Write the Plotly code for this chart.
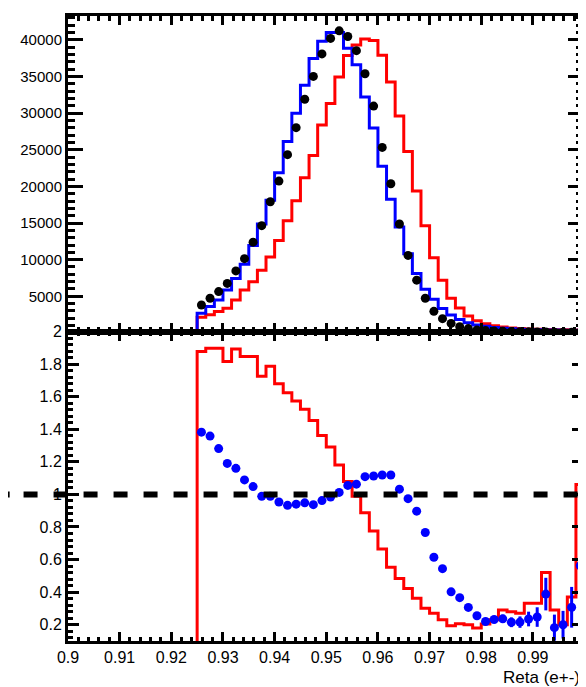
import plotly.graph_objects as go

# ---------------- data (45 bins, 0.925 -> 1.0, width 1/600) ----------------
bin_start = 0.925
bin_width = 1.0 / 600
n_bins = 45

mc_blue = [2700, 3610, 4500, 5850, 7430, 9360, 11930, 14860, 18110, 21850,
           26120, 29960, 33780, 37450, 39800, 41000, 41000, 38850, 36600, 32200,
           27950, 22750, 18250, 14450, 10800, 8100, 5950, 4600, 3350, 2450,
           1850, 1400, 1100, 900, 750, 650, 580, 520, 480, 450,
           420, 400, 380, 370, 360]

mc_red = [2160, 2480, 2930, 3380, 4500, 5850, 6980, 8550, 10360, 12610,
          15310, 18020, 21170, 24200, 28380, 31310, 34910, 37840, 39300, 40100,
          39900, 37900, 34230, 29600, 24770, 19370, 14640, 10250, 7200, 4750,
          3400, 2300, 1650, 1250, 1000, 800, 680, 600, 540, 500,
          470, 450, 430, 420, 410]

data_black = [3820, 4730, 5640, 6760, 8470, 10140, 12390, 14640, 17900, 20720,
              24320, 28010, 31890, 35000, 38070, 40180, 41220, 40450, 38510, 35360,
              30950, 25310, 20360, 14860, 10580, 7200, 4730, 2950, 1950, 1300,
              850, 600, 420, 320, 260, 220, 190, 170, 150, 140,
              130, 110, 100, 90, 90]

ratio_red = [1.877, 1.897, 1.897, 1.816, 1.893, 1.846, 1.846, 1.725, 1.786, 1.68,
             1.624, 1.574, 1.523, 1.453, 1.362, 1.291, 1.18, 1.079, 0.988, 0.887,
             0.776, 0.665, 0.553, 0.483, 0.422, 0.362, 0.301, 0.27, 0.23, 0.194,
             0.206, 0.2, 0.18, 0.205, 0.23, 0.29, 0.28, 0.27, 0.332, 0.332,
             0.52, 0.29, 0.2, 0.37, 1.06]

ratio_blue = [1.382, 1.358, 1.281, 1.19, 1.16, 1.089, 1.048, 0.988, 0.988, 0.953,
              0.933, 0.94, 0.948, 0.937, 0.962, 0.984, 1.012, 1.055, 1.063, 1.109,
              1.113, 1.119, 1.119, 1.032, 0.974, 0.897, 0.766, 0.614, 0.544, 0.402,
              0.366, 0.306, 0.255, 0.22, 0.232, 0.236, 0.215, 0.216, 0.235, 0.247,
              0.388, 0.182, 0.2, 0.307, 0.562]

ratio_blue_err = [0.006, 0.005, 0.005, 0.005, 0.005, 0.005, 0.005, 0.005, 0.005, 0.005,
                  0.005, 0.005, 0.005, 0.005, 0.005, 0.005, 0.005, 0.005, 0.005, 0.005,
                  0.005, 0.005, 0.005, 0.006, 0.006, 0.007, 0.008, 0.008, 0.009, 0.01,
                  0.012, 0.014, 0.016, 0.018, 0.02, 0.025, 0.03, 0.035, 0.045, 0.06,
                  0.1, 0.08, 0.085, 0.125, 0.28]

x_tick_vals = [0.9, 0.91, 0.92, 0.93, 0.94, 0.95, 0.96, 0.97, 0.98, 0.99, 1.0]
x_tick_text = ["0.9", "0.91", "0.92", "0.93", "0.94", "0.95", "0.96", "0.97", "0.98", "0.99", "1"]
top_y_tick_vals = [5000, 10000, 15000, 20000, 25000, 30000, 35000, 40000]
top_y_tick_text = ["5000", "10000", "15000", "20000", "25000", "30000", "35000", "40000"]
bot_y_tick_vals = [0.2, 0.4, 0.6, 0.8, 1.0, 1.2, 1.4, 1.6, 1.8, 2.0]
bot_y_tick_text = ["0.2", "0.4", "0.6", "0.8", "1", "1.2", "1.4", "1.6", "1.8", "2"]
x_title = "Reta (e+-)"

# ---------------- derived bin geometry ----------------
edges = [bin_start + i * bin_width for i in range(n_bins + 1)]
centers = [bin_start + (i + 0.5) * bin_width for i in range(n_bins)]


def step_xy(vals):
    xs = [0.9] + edges
    ys = [0] + list(vals) + [vals[-1]]
    return xs, ys


FONT = "Liberation Sans, Arial, Helvetica, sans-serif"
# the page body adds an 8px margin, so the figure is 8px smaller and shifted
W, H = 578, 679
ML, MR, MT, MB = 60, 0, 2, 46
split = 0.4952

fig = go.Figure()

# top panel
xr, yr = step_xy(mc_red)
fig.add_trace(go.Scatter(x=xr, y=yr, mode="lines", line=dict(color="#ff0000", width=3, shape="hv"),
                         xaxis="x", yaxis="y", showlegend=False))
xb, yb = step_xy(mc_blue)
fig.add_trace(go.Scatter(x=xb, y=yb, mode="lines", line=dict(color="#0000ff", width=3, shape="hv"),
                         xaxis="x", yaxis="y", showlegend=False))
fig.add_trace(go.Scatter(x=centers, y=data_black, mode="markers",
                         marker=dict(color="black", size=9, line=dict(width=0)),
                         xaxis="x", yaxis="y", showlegend=False))

# bottom panel
xrr, yrr = step_xy(ratio_red)
fig.add_trace(go.Scatter(x=xrr, y=yrr, mode="lines", line=dict(color="#ff0000", width=3, shape="hv"),
                         xaxis="x2", yaxis="y2", showlegend=False))
fig.add_trace(go.Scatter(x=centers, y=ratio_blue, mode="markers",
                         marker=dict(color="#0000ff", size=9, line=dict(width=0)),
                         error_y=dict(type="data", array=ratio_blue_err, color="#0000ff",
                                      thickness=3, width=0),
                         xaxis="x2", yaxis="y2", showlegend=False))

x_range = [0.9, 0.9997]

common_axis = dict(showline=True, linewidth=3, linecolor="black", mirror="ticks",
                   ticks="inside", tickcolor="black", tickwidth=2.5,
                   showgrid=False, zeroline=False,
                   tickfont=dict(family=FONT, size=15, color="black"))

fig.update_layout(
    width=W, height=H,
    margin=dict(l=ML, r=MR, t=MT, b=MB, pad=0),
    paper_bgcolor="white", plot_bgcolor="white",
    font=dict(family=FONT, size=15, color="black"),
    xaxis=dict(domain=[0, 1], range=x_range, anchor="y",
               tickmode="array", tickvals=x_tick_vals, showticklabels=False,
               ticklen=9,
               minor=dict(tickmode="linear", tick0=0.9, dtick=0.002, ticklen=5,
                          ticks="inside", tickcolor="black", tickwidth=2.5, showgrid=False),
               **common_axis),
    yaxis=dict(domain=[split, 1], range=[200, 43240], anchor="x",
               tickmode="array", tickvals=top_y_tick_vals, ticktext=top_y_tick_text,
               ticklen=15,
               minor=dict(tickmode="linear", tick0=0, dtick=1000, ticklen=7,
                          ticks="inside", tickcolor="black", tickwidth=2.5, showgrid=False),
               **common_axis),
    xaxis2=dict(domain=[0, 1], range=x_range, anchor="y2",
                tickmode="array", tickvals=x_tick_vals, ticktext=x_tick_text,
                ticklen=9,
                minor=dict(tickmode="linear", tick0=0.9, dtick=0.002, ticklen=4,
                           ticks="inside", tickcolor="black", tickwidth=2.5, showgrid=False),
                **{**common_axis, "tickfont": dict(family=FONT, size=16, color="black")}),
    yaxis2=dict(domain=[0, split], range=[0.1, 2.0], anchor="x2",
                tickmode="array", tickvals=bot_y_tick_vals, ticktext=bot_y_tick_text,
                ticklen=11,
                minor=dict(tickmode="linear", tick0=0, dtick=0.04, ticklen=5,
                           ticks="inside", tickcolor="black", tickwidth=2.5, showgrid=False),
                **{**common_axis, "tickfont": dict(family=FONT, size=16, color="black")}),
    shapes=[
        dict(type="line", xref="paper", yref="y2", x0=-0.0863, x1=1.0, y0=1.0, y1=1.0,
             line=dict(color="black", width=6, dash="14px,16px"), layer="above"),
        dict(type="line", xref="paper", yref="y2", x0=-0.1178, x1=-0.1133, y0=1.0, y1=1.0,
             line=dict(color="black", width=6), layer="above"),
    ],
    annotations=[
        dict(text=x_title, xref="paper", yref="paper", x=0.998, y=-0.0586,
             xanchor="right", yanchor="middle", showarrow=False,
             font=dict(family=FONT, size=17, color="black")),
        dict(text="1", xref="paper", yref="paper", x=1.003, y=-0.0158,
             xanchor="center", yanchor="middle", showarrow=False,
             font=dict(family=FONT, size=16, color="black")),
    ],
)

fig.write_html("out.html")
